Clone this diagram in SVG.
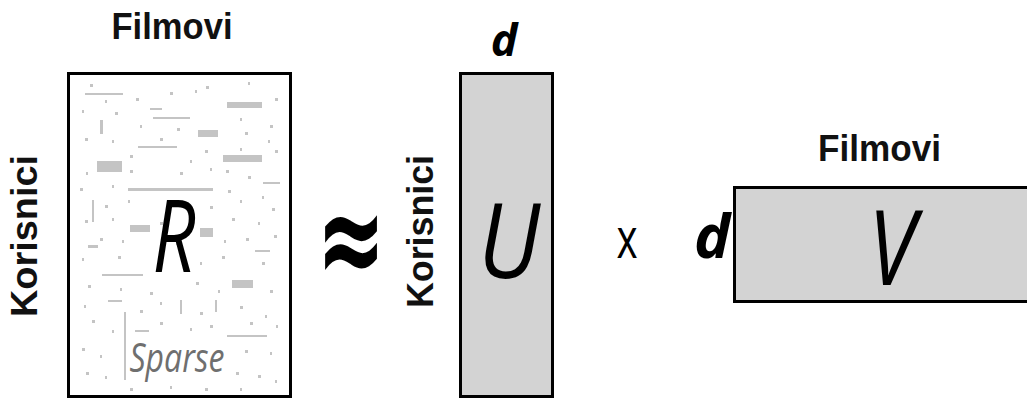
<svg xmlns="http://www.w3.org/2000/svg" width="1027" height="399" viewBox="0 0 1027 399">
<style>
.lbl{font-family:"Liberation Sans",Arial,sans-serif;font-weight:bold;fill:#111;text-anchor:middle}
.mat{font-family:"Open Sans","DejaVu Sans",sans-serif;font-style:italic;fill:#000;text-anchor:middle}
.box{stroke:#000;stroke-width:3}
.speck{fill:#c4c4c4}
</style>
<rect width="1027" height="399" fill="#fff"/>
<g id="matrixR">
<rect class="box" x="68.5" y="73.5" width="222" height="323" fill="#fff"/>
<path class="speck" d="M85 93h38v2h-38z M227 102h35v6h-35z M153 117h37v2h-37z M198 130h20v7h-20z M138 146h39v2h-39z M223 155h39v7h-39z M97 161h25v11h-25z M128 188h85v3h-85z M130 225h20v7h-20z M200 228h13v9h-13z M102 274h41v2h-41z M232 280h21v8h-21z M227 335h40v2h-40z M263 182h17v2h-17z M124 312h2v68h-2z M150 108h12v2h-12z M100 120h3v14h-3z M92 200h2v22h-2z M180 300h2v14h-2z M135 330h14v2h-14z M255 250h15v2h-15z M88 245h10v3h-10z M108 300h14v2h-14z M215 300h2v12h-2z"/>
<path class="speck" d="M90 84h3v3h-3z M105 100h2v3h-2z M136 98h3v3h-3z M170 92h3v3h-3z M195 90h2v3h-2z M206 86h3v3h-3z M248 82h2v3h-2z M275 98h3v3h-3z M82 110h2v3h-2z M115 112h3v3h-3z M140 125h2v3h-2z M177 128h3v3h-3z M240 118h2v3h-2z M270 125h3v3h-3z M85 138h3v3h-3z M112 140h2v3h-2z M160 138h3v3h-3z M245 132h3v3h-3z M268 140h2v3h-2z M130 155h3v3h-3z M190 160h2v3h-2z M205 150h3v3h-3z M240 148h2v3h-2z M275 150h3v3h-3z M86 172h2v3h-2z M130 170h3v3h-3z M180 172h3v3h-3z M210 168h2v3h-2z M226 170h3v3h-3z M248 176h3v3h-3z M80 188h3v3h-3z M112 185h2v3h-2z M228 190h3v3h-3z M262 196h2v3h-2z M105 205h3v3h-3z M128 200h2v3h-2z M210 206h3v3h-3z M240 200h2v3h-2z M272 208h3v3h-3z M85 220h3v3h-3z M112 218h2v3h-2z M160 222h3v3h-3z M232 218h3v3h-3z M258 222h2v3h-2z M100 238h3v3h-3z M122 240h2v3h-2z M176 242h3v3h-3z M224 240h2v3h-2z M246 238h3v3h-3z M274 235h3v3h-3z M82 258h2v3h-2z M118 256h3v3h-3z M160 258h3v3h-3z M200 262h2v3h-2z M222 256h3v3h-3z M262 262h3v3h-3z M88 285h3v3h-3z M120 288h2v3h-2z M150 292h3v3h-3z M196 282h3v3h-3z M218 290h2v3h-2z M270 290h3v3h-3z M84 305h2v3h-2z M140 310h3v3h-3z M160 302h2v3h-2z M200 312h3v3h-3z M240 306h3v3h-3z M265 315h2v3h-2z M92 320h3v3h-3z M112 330h2v3h-2z M160 322h3v3h-3z M190 328h2v3h-2z M210 325h3v3h-3z M250 322h3v3h-3z M276 325h2v3h-2z M82 348h3v3h-3z M100 355h2v3h-2z M245 350h3v3h-3z M270 352h2v3h-2z M86 372h3v3h-3z M105 376h2v3h-2z M236 372h3v3h-3z M258 375h3v3h-3z M275 380h2v3h-2z M130 388h3v3h-3z M170 386h2v3h-2z M205 388h3v3h-3z M240 388h2v3h-2z"/>
<text class="mat" transform="translate(174 272) scale(0.75 1)" font-size="100">R</text>
<text class="mat" transform="translate(177 372) scale(0.8 1)" font-size="40" style="fill:#6f6f6f">Sparse</text>
</g>
<g id="labelsR">
<text class="lbl" x="172" y="39" font-size="37" textLength="121" lengthAdjust="spacingAndGlyphs">Filmovi</text>
<text class="lbl" transform="translate(36.5 236) rotate(-90)" font-size="36" textLength="162" lengthAdjust="spacingAndGlyphs">Korisnici</text>
</g>
<g id="approx">
<text transform="translate(351 285) scale(0.92 1.5)" font-family="DejaVu Sans, sans-serif" font-weight="bold" font-size="90" text-anchor="middle" fill="#000">≈</text>
</g>
<g id="matrixU">
<rect class="box" x="460.5" y="73.5" width="92" height="323" fill="#d3d3d3"/>
<text class="mat" transform="translate(509 278) scale(0.87 1)" font-size="105">U</text>
<text class="mat" x="504" y="56" font-size="45" font-weight="bold">d</text>
<text class="lbl" transform="translate(433 231.5) rotate(-90)" font-size="36" textLength="153" lengthAdjust="spacingAndGlyphs">Korisnici</text>
</g>
<g id="times">
<text transform="translate(627 258) scale(0.72 1)" font-family="Open Sans, sans-serif" font-size="56" text-anchor="middle" fill="#000">x</text>
</g>
<g id="matrixV">
<rect class="box" x="734.5" y="187.5" width="310" height="114" fill="#d3d3d3"/>
<text class="mat" transform="translate(892 285) scale(0.82 1)" font-size="105">V</text>
<text class="mat" x="712" y="258" font-size="61" font-weight="bold">d</text>
<text class="lbl" x="879.5" y="161" font-size="37" textLength="123" lengthAdjust="spacingAndGlyphs">Filmovi</text>
</g>
<g id="connectors"></g>
</svg>
